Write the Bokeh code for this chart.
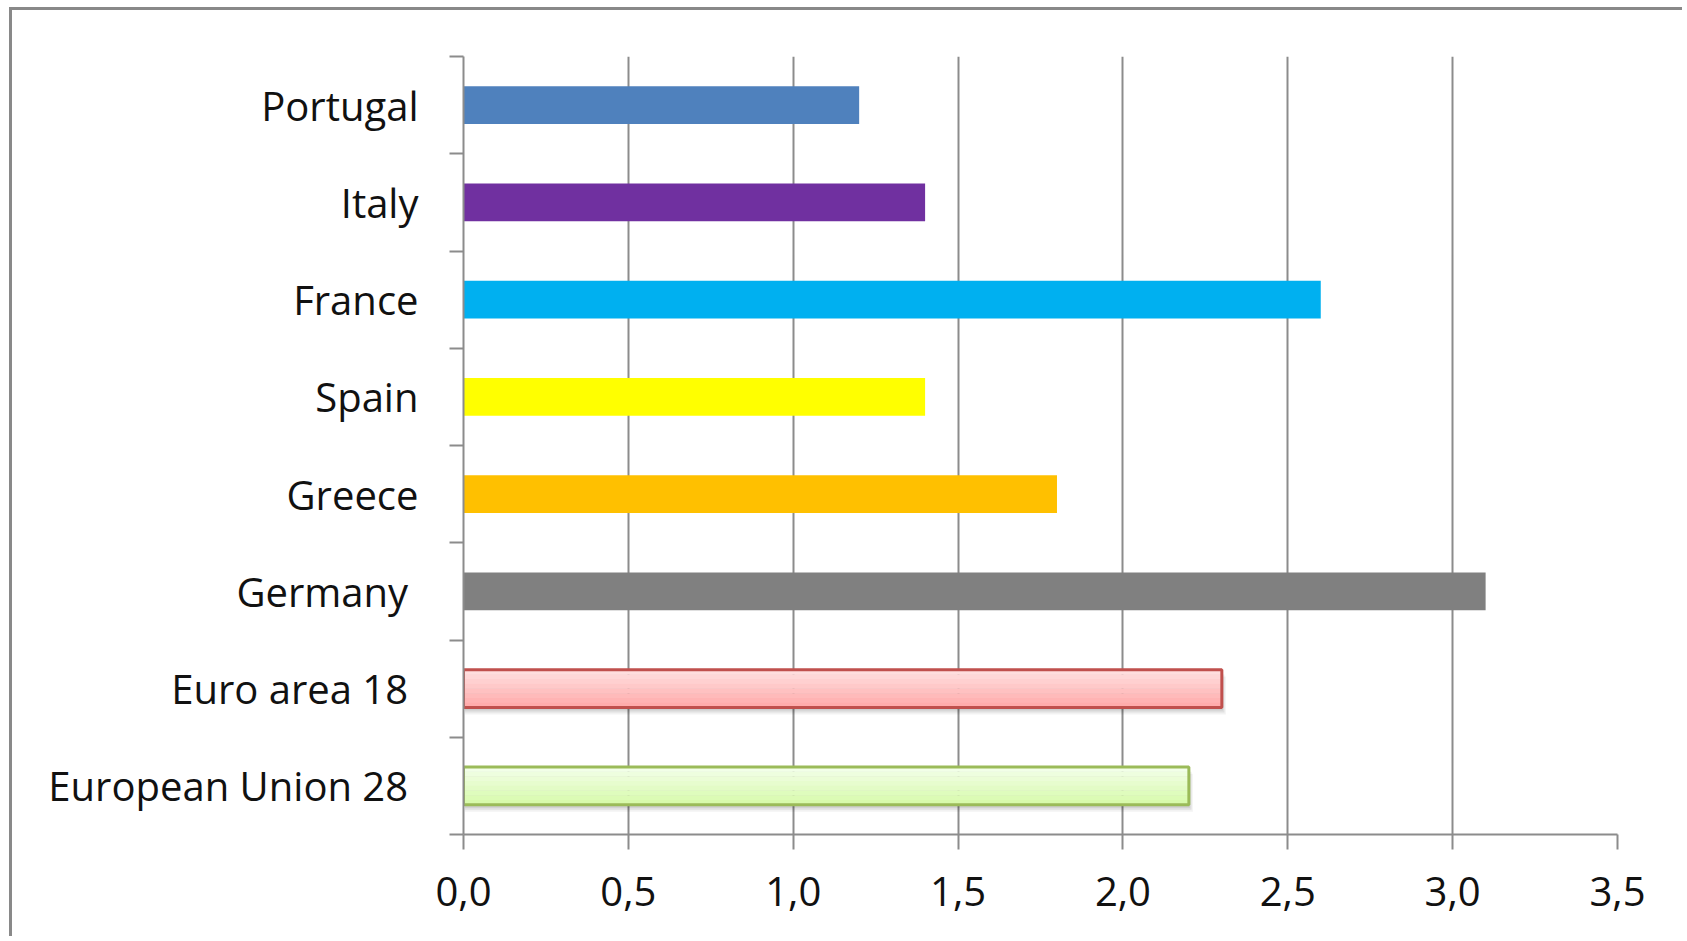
from bokeh.plotting import figure
from bokeh.models import FixedTicker, Range1d, ColumnDataSource
from bokeh.transform import dodge
from bokeh.embed import file_html
from bokeh.resources import INLINE

# Data (top to bottom)
categories = ["Portugal", "Italy", "France", "Spain", "Greece", "Germany\u00a0",
              "Euro area 18\u00a0", "European Union 28\u00a0"]
values = [1.2, 1.4, 2.6, 1.4, 1.8, 3.1, 2.3, 2.2]
colors = ["#4F81BD", "#7030A0", "#00B0F0", "#FFFF00", "#FFC000", "#808080",
          "#FFA8A8", "#D6FAA8"]
top_colors = ["#4F81BD", "#7030A0", "#00B0F0", "#FFFF00", "#FFC000", "#808080",
              "#FFE2E2", "#F4FFEC"]
edge_colors = [None, None, None, None, None, None, "#C0504D", "#9BBB59"]
x_ticks = [0.0, 0.5, 1.0, 1.5, 2.0, 2.5, 3.0, 3.5]
x_tick_labels = ["0,0", "0,5", "1,0", "1,5", "2,0", "2,5", "3,0", "3,5"]

n = len(categories)
ypos = [n - i - 0.5 for i in range(n)]
GRAY = "#8C8C8C"
FONT = "Open Sans"

p = figure(width=1673, height=929, x_range=Range1d(0, 3.5), y_range=Range1d(0, n),
           output_backend="svg", toolbar_location=None,
           min_border_left=451, min_border_right=68, min_border_top=46, min_border_bottom=105)
p.background_fill_color = "white"
p.border_fill_color = "white"
p.outline_line_color = None
p.styles = {"margin-left": "9px", "margin-top": "7px",
            "border-left": "3px solid #898989", "border-top": "3px solid #898989"}

H = 0.39
plain_idx = [i for i in range(n) if edge_colors[i] is None]
fancy_idx = [i for i in range(n) if edge_colors[i] is not None]

plain = ColumnDataSource(dict(y=[ypos[i] for i in plain_idx], v=[values[i] for i in plain_idx],
                              c=[colors[i] for i in plain_idx]))
p.hbar(y="y", right="v", left=0, height=H, fill_color="c", line_color=None, source=plain)

fancy = ColumnDataSource(dict(y=[ypos[i] for i in fancy_idx], v=[values[i] for i in fancy_idx],
                              ec=[edge_colors[i] for i in fancy_idx]))
# soft shadows
for dy, dx, a in [(-0.07, 0.012, 0.05), (-0.05, 0.008, 0.07), (-0.03, 0.004, 0.08)]:
    p.hbar(y=dodge("y", dy, range=p.y_range), right=dodge("v", dx, range=p.x_range), left=0.004,
           height=H, fill_color="#000000", fill_alpha=a, line_color=None, source=fancy)


def hex2rgb(h):
    return tuple(int(h[k:k + 2], 16) for k in (1, 3, 5))


def mix(c1, c2, t):
    a, b = hex2rgb(c1), hex2rgb(c2)
    return "#%02X%02X%02X" % tuple(round(a[k] + (b[k] - a[k]) * t) for k in range(3))


# gradient-like fill: stripes from top colour to bottom colour
NS = 8
for s in range(NS):
    t = (s + 0.5) / NS
    off = H / 2 - (s + 0.5) * H / NS
    stripe = ColumnDataSource(dict(y=[ypos[i] for i in fancy_idx], v=[values[i] for i in fancy_idx],
                                   c=[mix(top_colors[i], colors[i], t) for i in fancy_idx]))
    p.hbar(y=dodge("y", off, range=p.y_range), right="v", left=0, height=H / NS * 1.05,
           fill_color="c", line_color=None, source=stripe)
p.hbar(y="y", right="v", left=0, height=H, fill_color=None, line_color="ec", line_width=3,
       source=fancy)

# x axis
xa = p.xaxis[0]
xa.ticker = FixedTicker(ticks=x_ticks)
xa.major_label_overrides = {t: l for t, l in zip(x_ticks, x_tick_labels)}
xa.axis_line_color = GRAY
xa.axis_line_width = 2
xa.major_tick_line_color = GRAY
xa.major_tick_line_width = 2
xa.major_tick_out = 15
xa.major_tick_in = 0
xa.minor_tick_line_color = None
xa.major_label_text_font = FONT
xa.major_label_text_font_size = "40px"
xa.major_label_text_color = "#111111"
xa.major_label_standoff = 27

# y axis
ya = p.yaxis[0]
ya.ticker = FixedTicker(ticks=ypos, minor_ticks=list(range(n + 1)))
ya.major_label_overrides = {y: c for y, c in zip(ypos, categories)}
ya.axis_line_color = GRAY
ya.axis_line_width = 2
ya.major_tick_line_color = None
ya.major_tick_out = 0
ya.major_tick_in = 0
ya.minor_tick_line_color = GRAY
ya.minor_tick_line_width = 2
ya.minor_tick_out = 14
ya.minor_tick_in = 0
ya.major_label_text_font = FONT
ya.major_label_text_font_size = "40px"
ya.major_label_text_color = "#111111"
ya.major_label_standoff = 31

p.xgrid.ticker = FixedTicker(ticks=x_ticks)
p.xgrid.grid_line_color = GRAY
p.xgrid.grid_line_width = 2
p.ygrid.visible = False

open("out.html", "w").write(file_html(p, INLINE))
